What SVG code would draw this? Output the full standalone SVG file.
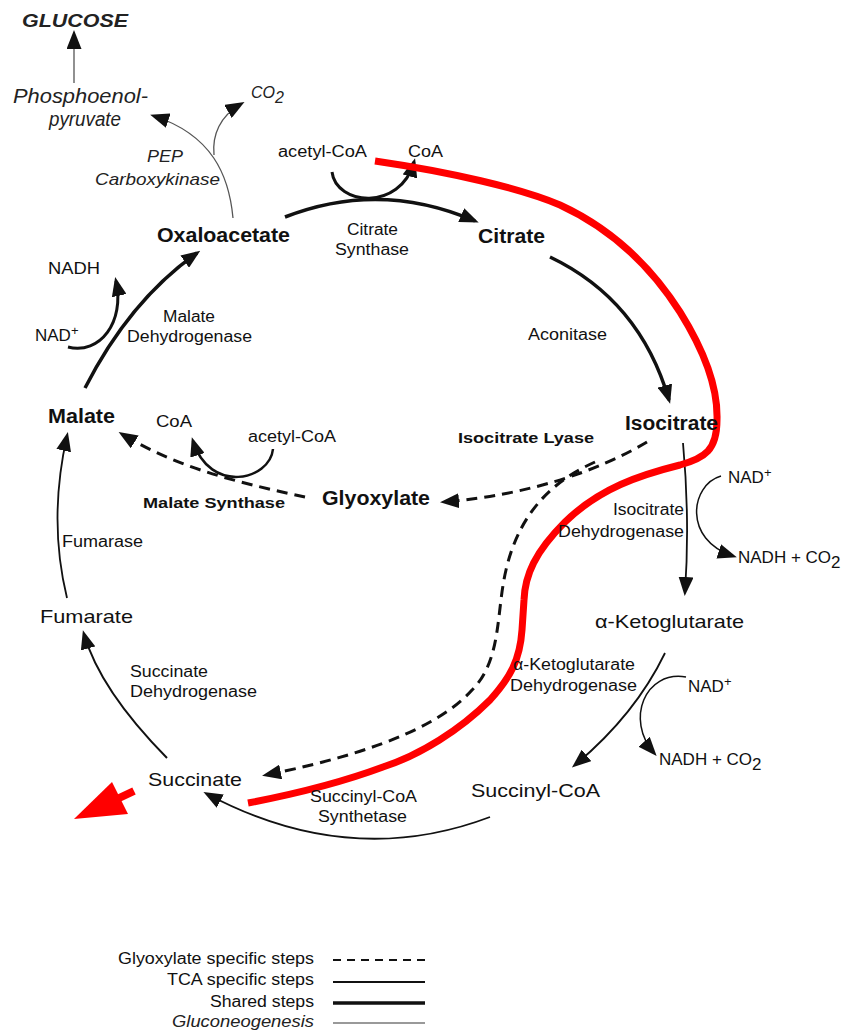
<svg xmlns="http://www.w3.org/2000/svg" width="850" height="1030" viewBox="0 0 850 1030">
<style>
text{font-family:"Liberation Sans",Arial,sans-serif;fill:#111}
.m{font-size:20px;font-weight:bold}
.r{font-size:19px}
.e{font-size:16px}
.eb{font-size:15px;font-weight:bold}
.c{font-size:17px}
.gi{font-style:italic;fill:#222}
.shared{fill:none;stroke:#111;stroke-width:3.5}
.tca{fill:none;stroke:#111;stroke-width:1.8}
.glx{fill:none;stroke:#111;stroke-width:3;stroke-dasharray:11 7}
.gluco{fill:none;stroke:#555;stroke-width:1.3}
.arr{marker-end:url(#ah)}
</style>
<defs>
<marker id="ah" viewBox="0 0 19 15" refX="15" refY="7.5" markerWidth="19" markerHeight="15" markerUnits="userSpaceOnUse" orient="auto"><path d="M0,0 L19,7.5 L0,15 z" fill="#111"/></marker>
</defs>
<rect width="850" height="1030" fill="#fff"/>

<g id="connectors">
<!-- gluconeogenesis -->
<path class="gluco arr" d="M74,83 L74,34"/>
<path class="gluco arr" d="M233,218 C229,175 212,135 154,116"/>
<path class="gluco arr" d="M214,155 C212,135 220,116 241,104"/>
<!-- citrate synthase -->
<path class="shared arr" d="M285,217 Q380,180 475,221"/>
<path class="shared arr" d="M332,172 C336,205 400,212 414,162" style="stroke-width:3"/>
<!-- aconitase -->
<path class="shared arr" d="M550,257 Q640,300 669,400"/>
<!-- isocitrate DH -->
<path class="tca arr" d="M683,443 Q690,520 685,592"/>
<path class="tca arr" d="M721,476 C690,485 683,540 733,556" style="stroke-width:1.5"/>
<!-- aKG DH -->
<path class="tca arr" d="M665,653 Q635,715 575,765"/>
<path class="tca arr" d="M686,677 C645,670 625,720 654,753" style="stroke-width:1.5"/>
<!-- succinyl-CoA synthetase -->
<path class="tca arr" d="M490,817 Q350,870 207,794"/>
<!-- succinate DH -->
<path class="tca arr" d="M167,758 Q100,690 84,634" style="stroke-width:2"/>
<!-- fumarase -->
<path class="tca arr" d="M67,598 Q48,520 67,436"/>
<!-- malate DH -->
<path class="shared arr" d="M85,388 Q130,300 197,253"/>
<path class="shared arr" d="M68,347 C100,355 125,322 116,281" style="stroke-width:3"/>
<!-- isocitrate lyase -->
<path class="glx arr" d="M647,442 C600,470 530,495 444,502"/>
<path class="glx arr" d="M595,462 C555,480 520,510 506,570 C496,612 502,660 472,690 C432,735 340,760 266,775"/>
<!-- malate synthase -->
<path class="glx arr" d="M305,497 C250,485 180,470 122,434"/>
<path class="shared arr" d="M273,449 C270,480 210,495 193,441" style="stroke-width:2.5"/>
<!-- red overlay -->
<path d="M375,161 C450,172 520,188 560,205 C610,228 650,265 680,312 C705,352 718,390 717,420 C717,450 705,458 680,465 C640,475 600,488 565,522 C535,552 525,575 524,600 L522,630 C520,660 510,678 490,700 C460,730 420,755 383,767 C340,783 290,795 248,803" fill="none" stroke="#ff0000" stroke-width="7" stroke-linecap="butt"/>
<polygon points="74,819 112,782 128,814" fill="#ff0000"/>
<line x1="117" y1="799" x2="134" y2="791" stroke="#ff0000" stroke-width="8"/>
</g>

<g id="glucose"><text x="22" y="27" class="gi" style="font-size:18px;font-weight:bold" textLength="106" lengthAdjust="spacingAndGlyphs">GLUCOSE</text></g>
<g id="pep"><text x="13" y="103" class="gi" style="font-size:20px" textLength="135" lengthAdjust="spacingAndGlyphs">Phosphoenol-</text><text x="49" y="126" class="gi" style="font-size:20px" textLength="72" lengthAdjust="spacingAndGlyphs">pyruvate</text></g>
<g id="co2-pep"><text x="251" y="98" class="gi" style="font-size:16px">CO<tspan dy="5">2</tspan></text></g>
<g id="pepck"><text x="147" y="162" class="gi" style="font-size:16px" textLength="36" lengthAdjust="spacingAndGlyphs">PEP</text><text x="95" y="185" class="gi" style="font-size:17px" textLength="125" lengthAdjust="spacingAndGlyphs">Carboxykinase</text></g>
<g id="oxaloacetate"><text x="157" y="242" class="m" textLength="133" lengthAdjust="spacingAndGlyphs">Oxaloacetate</text></g>
<g id="acetylcoa-cs"><text x="278" y="157" class="e" textLength="89" lengthAdjust="spacingAndGlyphs">acetyl-CoA</text></g>
<g id="coa-cs"><text x="408" y="157" class="e" textLength="35" lengthAdjust="spacingAndGlyphs">CoA</text></g>
<g id="citrate-synthase"><text x="347" y="235" class="e" textLength="51" lengthAdjust="spacingAndGlyphs">Citrate</text><text x="335" y="255" class="e" textLength="74" lengthAdjust="spacingAndGlyphs">Synthase</text></g>
<g id="citrate"><text x="478" y="243" class="m" textLength="67" lengthAdjust="spacingAndGlyphs">Citrate</text></g>
<g id="aconitase"><text x="528" y="340" class="e" textLength="79" lengthAdjust="spacingAndGlyphs">Aconitase</text></g>
<g id="isocitrate"><text x="625" y="430" class="m" textLength="93" lengthAdjust="spacingAndGlyphs">Isocitrate</text></g>
<g id="isocitrate-lyase"><text x="458" y="443" class="eb" textLength="136" lengthAdjust="spacingAndGlyphs">Isocitrate Lyase</text></g>
<g id="glyoxylate"><text x="322" y="505" class="m" textLength="108" lengthAdjust="spacingAndGlyphs">Glyoxylate</text></g>
<g id="acetylcoa-ms"><text x="248" y="442" class="e" textLength="88" lengthAdjust="spacingAndGlyphs">acetyl-CoA</text></g>
<g id="coa-ms"><text x="156" y="427" class="e" textLength="36" lengthAdjust="spacingAndGlyphs">CoA</text></g>
<g id="malate-synthase"><text x="143" y="508" class="eb" textLength="142" lengthAdjust="spacingAndGlyphs">Malate Synthase</text></g>
<g id="malate"><text x="48" y="423" class="m" textLength="67" lengthAdjust="spacingAndGlyphs">Malate</text></g>
<g id="malate-dh"><text x="163" y="322" class="e" textLength="52" lengthAdjust="spacingAndGlyphs">Malate</text><text x="127" y="342" class="e" textLength="125" lengthAdjust="spacingAndGlyphs">Dehydrogenase</text></g>
<g id="nad-mdh"><text x="35" y="341" class="c">NAD<tspan dy="-6" font-size="13">+</tspan></text></g>
<g id="nadh-mdh"><text x="48" y="274" class="e" textLength="52" lengthAdjust="spacingAndGlyphs">NADH</text></g>
<g id="nad-icdh"><text x="728" y="483" class="c">NAD<tspan dy="-6" font-size="13">+</tspan></text></g>
<g id="nadh-icdh"><text x="738" y="563" class="c">NADH + CO<tspan dy="5">2</tspan></text></g>
<g id="isocitrate-dh"><text x="613" y="515" class="e" textLength="71" lengthAdjust="spacingAndGlyphs">Isocitrate</text><text x="558" y="537" class="e" textLength="126" lengthAdjust="spacingAndGlyphs">Dehydrogenase</text></g>
<g id="akg"><text x="595" y="628" class="r" textLength="149" lengthAdjust="spacingAndGlyphs">α-Ketoglutarate</text></g>
<g id="akg-dh"><text x="513" y="670" class="e" textLength="122" lengthAdjust="spacingAndGlyphs">α-Ketoglutarate</text><text x="510" y="691" class="e" textLength="127" lengthAdjust="spacingAndGlyphs">Dehydrogenase</text></g>
<g id="nad-akgdh"><text x="688" y="692" class="c">NAD<tspan dy="-6" font-size="13">+</tspan></text></g>
<g id="nadh-akgdh"><text x="659" y="765" class="c">NADH + CO<tspan dy="5">2</tspan></text></g>
<g id="succinyl-coa"><text x="471" y="797" class="r" textLength="129" lengthAdjust="spacingAndGlyphs">Succinyl-CoA</text></g>
<g id="scs"><text x="310" y="802" class="e" textLength="107" lengthAdjust="spacingAndGlyphs">Succinyl-CoA</text><text x="318" y="822" class="e" textLength="89" lengthAdjust="spacingAndGlyphs">Synthetase</text></g>
<g id="succinate"><text x="148" y="786" class="r" textLength="94" lengthAdjust="spacingAndGlyphs">Succinate</text></g>
<g id="sdh"><text x="130" y="677" class="e" textLength="78" lengthAdjust="spacingAndGlyphs">Succinate</text><text x="130" y="697" class="e" textLength="127" lengthAdjust="spacingAndGlyphs">Dehydrogenase</text></g>
<g id="fumarate"><text x="40" y="623" class="r" textLength="93" lengthAdjust="spacingAndGlyphs">Fumarate</text></g>
<g id="fumarase"><text x="62" y="547" class="e" textLength="81" lengthAdjust="spacingAndGlyphs">Fumarase</text></g>

<g id="legend">
<text x="118" y="964" class="e" textLength="196" lengthAdjust="spacingAndGlyphs">Glyoxylate specific steps</text>
<text x="167" y="985" class="e" textLength="147" lengthAdjust="spacingAndGlyphs">TCA specific steps</text>
<text x="210" y="1007" class="e" textLength="104" lengthAdjust="spacingAndGlyphs">Shared steps</text>
<text x="172" y="1027" class="e gi" textLength="142" lengthAdjust="spacingAndGlyphs">Gluconeogenesis</text>
<line x1="333" y1="960" x2="425" y2="960" stroke="#111" stroke-width="2" stroke-dasharray="8 6"/>
<line x1="333" y1="982" x2="425" y2="982" stroke="#111" stroke-width="2"/>
<line x1="333" y1="1003" x2="425" y2="1003" stroke="#111" stroke-width="3.5"/>
<line x1="333" y1="1023" x2="425" y2="1023" stroke="#999" stroke-width="2"/>
</g>
</svg>
